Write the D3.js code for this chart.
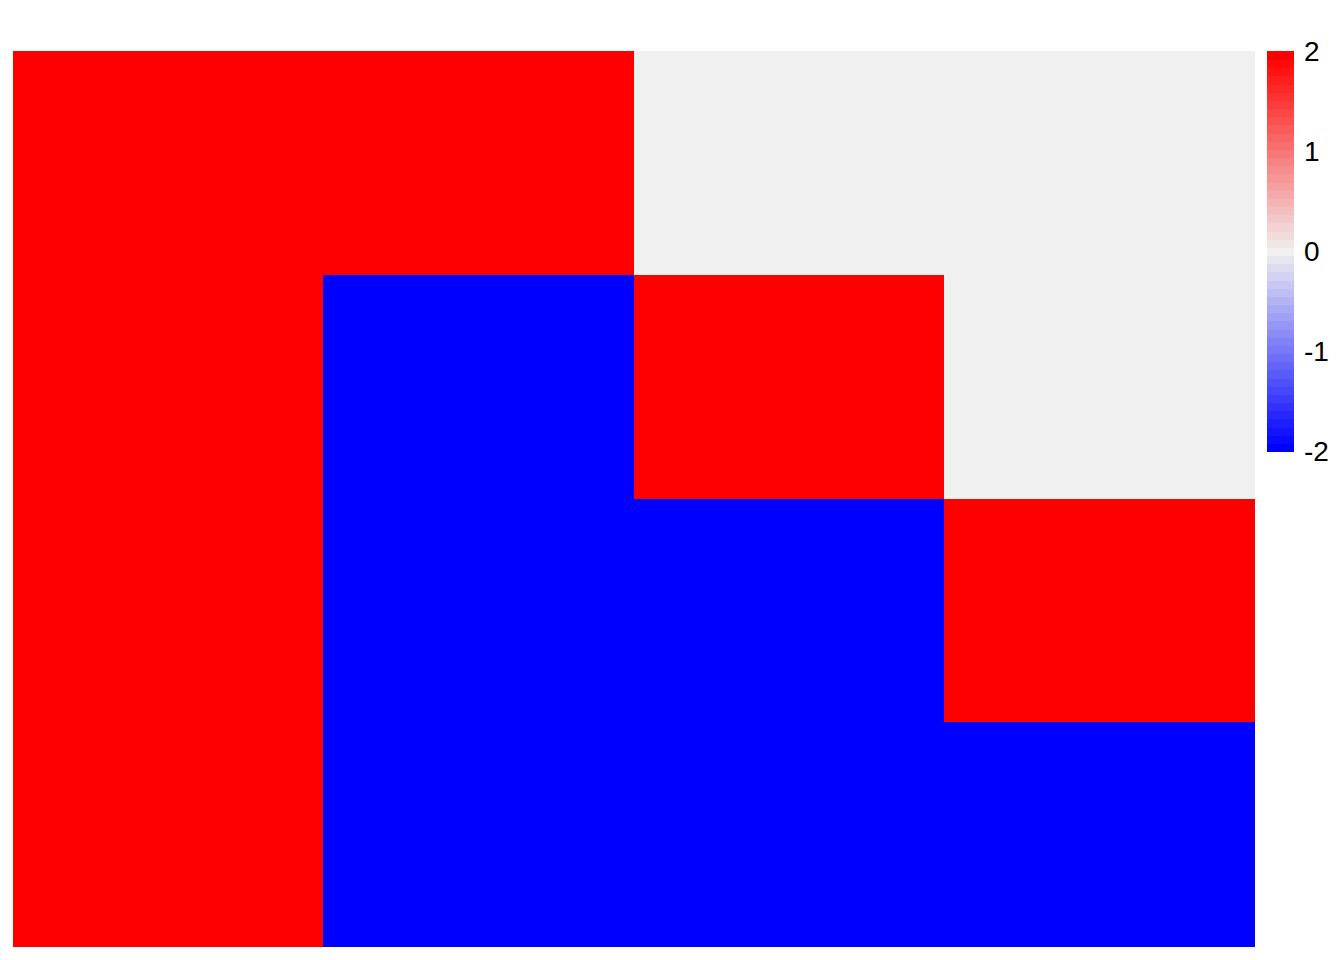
<!DOCTYPE html>
<html><head><meta charset="utf-8">
<script src="https://cdn.jsdelivr.net/npm/d3@7"></script>
<style>body{margin:0;background:#fff;} svg{display:block;}</style>
</head><body>
<svg id="chart" width="1344" height="960"></svg>
<script>
const rowNames = ["r1","r2","r3","r4"];
const colNames = ["c1","c2","c3","c4"];
const values = [
  [ 2,  2,  0,  0],
  [ 2, -2,  2,  0],
  [ 2, -2, -2,  2],
  [ 2, -2, -2, -2]
];
const legendTicks = [2, 1, 0, -1, -2];

const nColors = 49;
const lo = -2, hi = 2;
const palette = d3.range(nColors).map(i => {
  const t = i / (nColors - 1);
  return t <= 0.5 ? d3.interpolateRgb("#0000FF", "#F0F0F0")(t * 2)
                  : d3.interpolateRgb("#F0F0F0", "#FF0000")((t - 0.5) * 2);
});
const breaks = d3.range(nColors + 1).map(i => lo + (hi - lo) * i / nColors);
const color = d3.scaleThreshold().domain(breaks.slice(1, -1)).range(palette);

const svg = d3.select("#chart");
const x = d3.scaleBand().domain(colNames).range([13, 1254]);
const y = d3.scaleBand().domain(rowNames).range([51, 946]);

const cells = [];
values.forEach((row, i) => row.forEach((v, j) => cells.push({r: rowNames[i], c: colNames[j], v})));
svg.append("g").attr("shape-rendering", "crispEdges")
  .selectAll("rect").data(cells).join("rect")
  .attr("x", d => x(d.c)).attr("y", d => y(d.r))
  .attr("width", x.bandwidth() + 1).attr("height", y.bandwidth() + 1)
  .attr("fill", d => color(d.v));

// legend
const ly = d3.scaleLinear().domain([lo, hi]).range([451, 51]);
const lg = svg.append("g");
lg.append("g").attr("shape-rendering", "crispEdges")
  .selectAll("rect").data(palette).join("rect")
  .attr("x", 1267).attr("width", 27)
  .attr("y", (d, i) => ly(breaks[i + 1]))
  .attr("height", (d, i) => ly(breaks[i]) - ly(breaks[i + 1]) + 1)
  .attr("fill", d => d);
lg.selectAll("text").data(legendTicks).join("text")
  .attr("x", 1304).attr("y", d => ly(d)).attr("dy", "0.36em")
  .attr("font-family", "Liberation Sans, Arial, sans-serif")
  .attr("font-size", 28).attr("fill", "#000")
  .text(d => d);
</script>
</body></html>
